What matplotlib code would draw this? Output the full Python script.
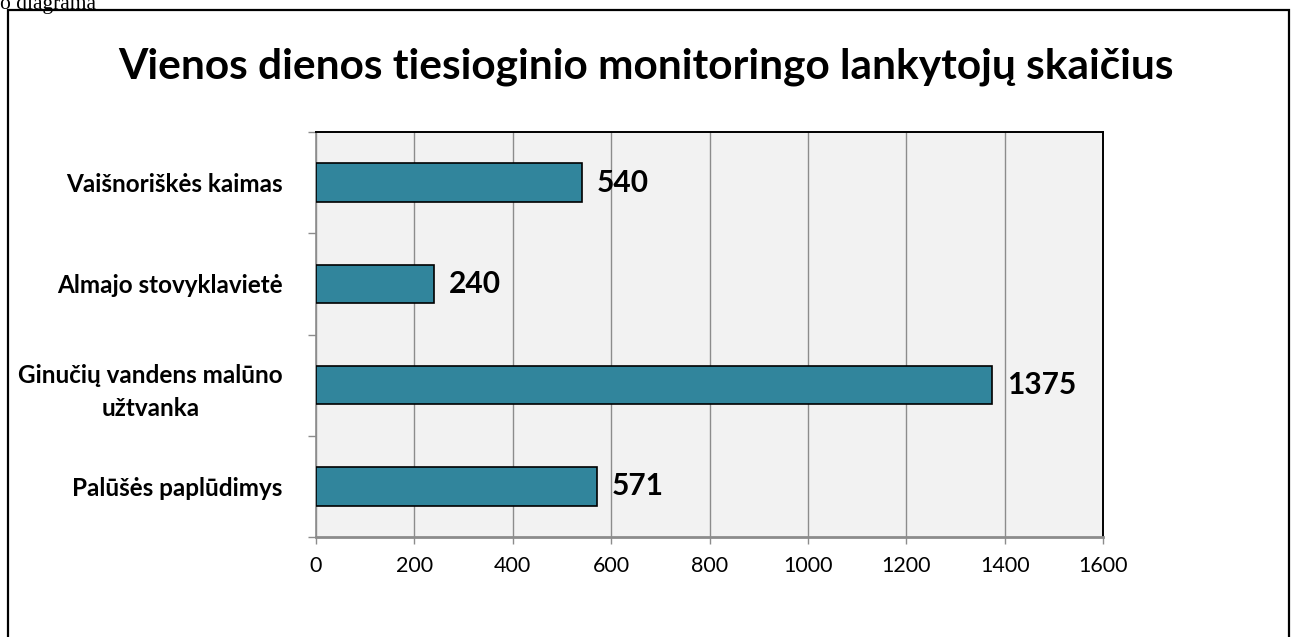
import numpy as np
import matplotlib.pyplot as plt
from matplotlib.patches import Rectangle

plt.rcParams['font.family'] = ['Lato', 'DejaVu Sans']

# data (top to bottom as shown)
categories = ['Vaišnoriškės kaimas', 'Almajo stovyklavietė',
              'Ginučių vandens malūno\nužtvanka', 'Palūšės paplūdimys']
visitors = [540, 240, 1375, 571]
x_ticks = [0, 200, 400, 600, 800, 1000, 1200, 1400, 1600]

title = 'Vienos dienos tiesioginio monitoringo lankytojų skaičius'

W, H = 1295, 637
fig = plt.figure(figsize=(W / 100, H / 100), dpi=100)

# outer frame of the chart object
fig.patches.append(Rectangle((8 / W, -0.05), (1289 - 8) / W, 1.05 - 10 / H,
                             transform=fig.transFigure, fill=False,
                             edgecolor='black', linewidth=1.6))

# caption text from the document above (cut at the top edge, as in the source)
fig.text(0.0, 1 - 9 / H, 'o diagrama', family='Liberation Serif',
         fontsize=15.5, ha='left', va='baseline')

ax = fig.add_axes([316 / W, (H - 537) / H, (1103 - 316) / W, (537 - 132) / H])
ax.set_facecolor('#F2F2F2')

y = np.arange(len(categories))
ax.barh(y, visitors, height=0.38, color='#31859C', edgecolor='black',
        linewidth=1.2, zorder=3)

for yi, v in zip(y, visitors):
    ax.text(v + 30, yi, str(v), ha='left', va='center', fontsize=21.5,
            fontweight='bold', zorder=4)

ax.set_xlim(0, 1600)
ax.set_ylim(len(categories) - 0.5, -0.5)
ax.set_xticks(x_ticks)
ax.set_xticklabels([str(t) for t in x_ticks], fontsize=15.5)
ax.grid(axis='x', color='#8C8C8C', linewidth=1.0, zorder=0)

ax.set_yticks(y)
ax.set_yticklabels(categories, fontsize=17.5, fontweight='bold',
                   multialignment='center', linespacing=1.5)
ax.set_yticks(np.arange(len(categories) + 1) - 0.5, minor=True)
ax.tick_params(axis='y', which='major', length=0, pad=24)
ax.tick_params(axis='y', which='minor', length=6, color='#8C8C8C', width=1)
ax.tick_params(axis='x', length=5, color='#8C8C8C', width=1, pad=9)

ax.spines['bottom'].set_color('#8C8C8C')
ax.spines['bottom'].set_linewidth(2)
ax.spines['left'].set_color('#8C8C8C')
ax.spines['left'].set_linewidth(1.2)
ax.spines['top'].set_color('black')
ax.spines['right'].set_color('black')
ax.spines['top'].set_linewidth(1.4)
ax.spines['right'].set_linewidth(1.4)

fig.text(646 / W, 1 - 67 / H, title, ha='center', va='center',
         fontsize=30.5, fontweight='bold')

fig.savefig('out.png', dpi=100)
